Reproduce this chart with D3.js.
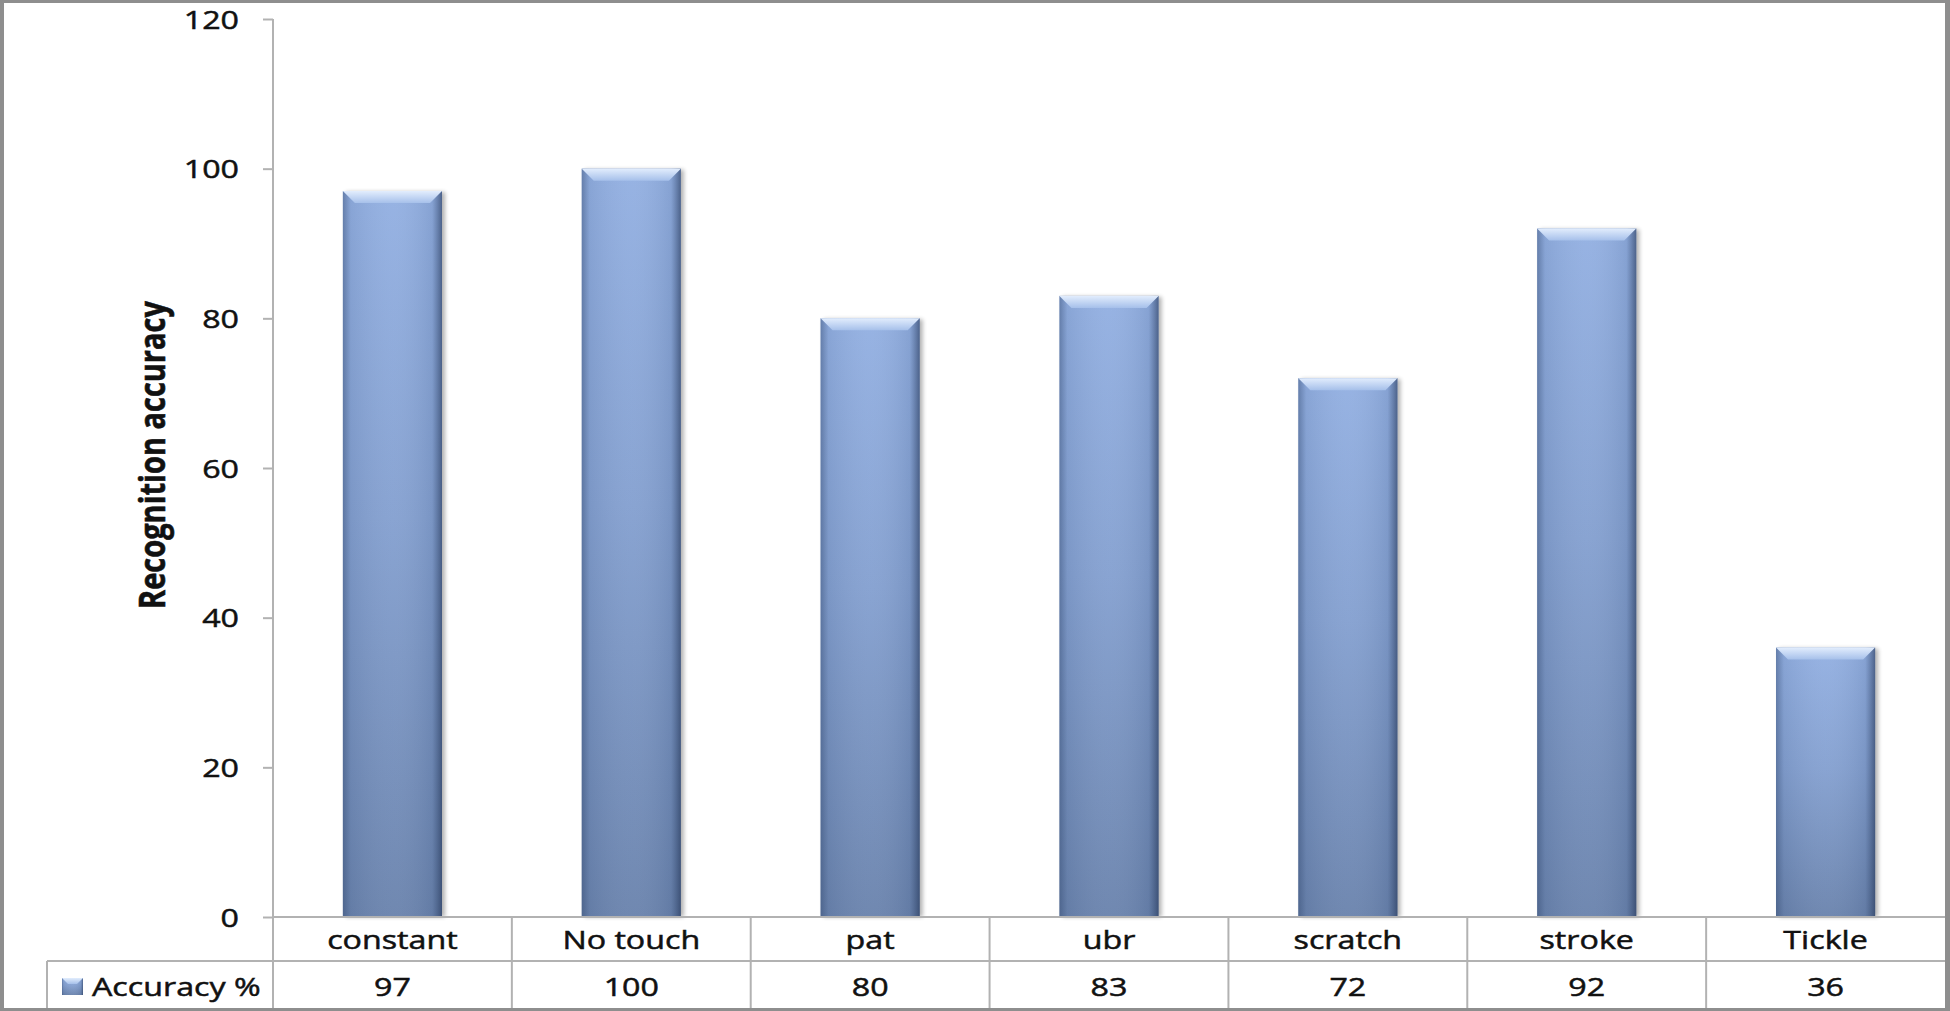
<!DOCTYPE html>
<html>
<head>
<meta charset="utf-8">
<script src="https://cdn.jsdelivr.net/npm/d3@7"></script>
<style>
  html, body { margin: 0; padding: 0; background: #fff; }
  svg { display: block; }
  text { font-family: 'Open Sans', 'DejaVu Sans', sans-serif; fill: #111; stroke: #111; stroke-width: 0.5px; }
</style>
</head>
<body>
<svg width="1950" height="1011"></svg>
<script>
// chart data
const categories = ['constant', 'No touch', 'pat', 'ubr', 'scratch', 'stroke', 'Tickle'];
const accuracy = [97, 100, 80, 83, 72, 92, 36];
const yTicks = [0, 20, 40, 60, 80, 100, 120];
const seriesName = 'Accuracy %';
const yTitle = 'Recognition accuracy';

let svg = d3.select('svg'),
  W = +svg.attr('width'),
  H = +svg.attr('height');

// plot box
let plotLeft = 273, plotRight = 1945, plotTop = 19, zero = 917,
  row1 = 961, plotBottom = 1008, legendLeft = 47;
let sx = 1.24;           // text in the picture is stretched sideways
let lineColor = '#b2b2b2';

let x = d3.scaleBand()
  .domain(categories)
  .range([plotLeft, plotRight])
  .paddingInner(0.585)
  .paddingOuter(0.2925);

let y = d3.scaleLinear()
  .domain([0, 120])
  .range([zero, plotTop]);

let defs = svg.append('defs');

let body = defs.append('linearGradient').attr('id', 'body')
  .attr('x1', 0).attr('y1', 0).attr('x2', 0).attr('y2', 1);
body.append('stop').attr('offset', '0%').attr('stop-color', '#93b0e2');
body.append('stop').attr('offset', '45%').attr('stop-color', '#84a0d0');
body.append('stop').attr('offset', '100%').attr('stop-color', '#6a83ad');

let side = defs.append('linearGradient').attr('id', 'side')
  .attr('x1', 0).attr('y1', 0).attr('x2', 1).attr('y2', 0);
side.append('stop').attr('offset', '0%').attr('stop-color', '#2c4268').attr('stop-opacity', 0.45);
side.append('stop').attr('offset', '8%').attr('stop-color', '#2c4268').attr('stop-opacity', 0.1);
side.append('stop').attr('offset', '50%').attr('stop-color', '#ffffff').attr('stop-opacity', 0.04);
side.append('stop').attr('offset', '90%').attr('stop-color', '#2c4268').attr('stop-opacity', 0.12);
side.append('stop').attr('offset', '100%').attr('stop-color', '#1e2f50').attr('stop-opacity', 0.6);

let bevel = defs.append('linearGradient').attr('id', 'bevel')
  .attr('x1', 0).attr('y1', 0).attr('x2', 0).attr('y2', 1);
bevel.append('stop').attr('offset', '0%').attr('stop-color', '#e2edfd');
bevel.append('stop').attr('offset', '100%').attr('stop-color', '#a6c0ea');

defs.append('filter').attr('id', 'blur')
  .attr('x', '-20%').attr('y', '-5%').attr('width', '140%').attr('height', '110%')
  .append('feGaussianBlur').attr('stdDeviation', 2);

// frame
svg.append('rect').attr('width', W).attr('height', H).attr('fill', '#8e8e8e');
svg.append('rect').attr('x', 4).attr('y', 3)
  .attr('width', plotRight - 4).attr('height', plotBottom - 3).attr('fill', '#fff');

// bars
let bars = svg.append('g').selectAll('g')
  .data(categories.map((c, i) => ({ cat: c, v: accuracy[i] })))
  .enter().append('g');

bars.append('rect')
  .attr('x', d => x(d.cat) + 3)
  .attr('y', d => y(d.v) + 1)
  .attr('width', x.bandwidth())
  .attr('height', d => y(0) - y(d.v) - 1)
  .attr('fill', '#000')
  .attr('opacity', 0.3)
  .attr('filter', 'url(#blur)');

bars.append('rect')
  .attr('x', d => x(d.cat))
  .attr('y', d => y(d.v))
  .attr('width', x.bandwidth())
  .attr('height', d => y(0) - y(d.v))
  .attr('fill', 'url(#body)');

bars.append('rect')
  .attr('x', d => x(d.cat))
  .attr('y', d => y(d.v))
  .attr('width', x.bandwidth())
  .attr('height', d => y(0) - y(d.v))
  .attr('fill', 'url(#side)');

let b = 12;
bars.append('path')
  .attr('d', d => {
    let x0 = x(d.cat), x1 = x0 + x.bandwidth(), y0 = y(d.v);
    return `M${x0},${y0}L${x1},${y0}L${x1 - b},${y0 + b}L${x0 + b},${y0 + b}Z`;
  })
  .attr('fill', 'url(#bevel)');

// y axis
let yAxis = svg.append('g')
  .attr('transform', `translate(${plotLeft},0)`)
  .call(d3.axisLeft(y).tickValues(yTicks).tickSize(10).tickPadding(0));

yAxis.select('.domain').attr('stroke', lineColor).attr('stroke-width', 2)
  .attr('d', `M0,${plotTop}V${plotBottom}`);
yAxis.selectAll('.tick line').attr('stroke', lineColor).attr('stroke-width', 2);
yAxis.selectAll('.tick text')
  .attr('x', null).attr('dy', null)
  .attr('transform', `translate(-34,9) scale(${sx},1)`)
  .attr('text-anchor', 'end')
  .style('font-size', '26px')
  .style('font-family', "'Open Sans', sans-serif")
  .attr('fill', '#111');

// y title
svg.append('text')
  .attr('transform', `translate(165,455) scale(${sx},1) rotate(-90)`)
  .attr('text-anchor', 'middle')
  .style('font-size', '29px')
  .style('font-weight', 'bold')
  .text(yTitle);

// data table below the axis
let table = svg.append('g')
  .attr('stroke', lineColor)
  .attr('stroke-width', 2);

table.append('line').attr('x1', plotLeft).attr('x2', plotRight).attr('y1', zero).attr('y2', zero);
table.append('line').attr('x1', legendLeft).attr('x2', plotRight).attr('y1', row1).attr('y2', row1);
table.append('line').attr('x1', legendLeft).attr('x2', legendLeft).attr('y1', row1).attr('y2', plotBottom);

let colLeft = c => x(c) - (x.step() - x.bandwidth()) / 2;

table.selectAll('.col')
  .data(categories.slice(1))
  .enter().append('line')
  .attr('x1', d => colLeft(d)).attr('x2', d => colLeft(d))
  .attr('y1', zero).attr('y2', plotBottom);

svg.append('g').selectAll('text')
  .data(categories)
  .enter().append('text')
  .attr('transform', d => `translate(${x(d) + x.bandwidth() / 2},949) scale(${sx},1)`)
  .attr('text-anchor', 'middle')
  .style('font-size', '26px')
  .text(d => d);

svg.append('g').selectAll('text')
  .data(accuracy)
  .enter().append('text')
  .attr('transform', (d, i) => `translate(${x(categories[i]) + x.bandwidth() / 2},996) scale(${sx},1)`)
  .attr('text-anchor', 'middle')
  .style('font-size', '26px')
  .text(d => d);

// legend key
svg.append('rect')
  .attr('x', 62).attr('y', 978)
  .attr('width', 21).attr('height', 17)
  .attr('fill', 'url(#body)');
svg.append('rect')
  .attr('x', 62).attr('y', 978)
  .attr('width', 21).attr('height', 17)
  .attr('fill', 'url(#side)');
svg.append('path')
  .attr('d', 'M62,978L83,978L77,984L68,984Z')
  .attr('fill', 'url(#bevel)');

svg.append('text')
  .attr('transform', `translate(92,996) scale(${sx},1)`)
  .style('font-size', '26px')
  .text(seriesName);
</script>
</body>
</html>
